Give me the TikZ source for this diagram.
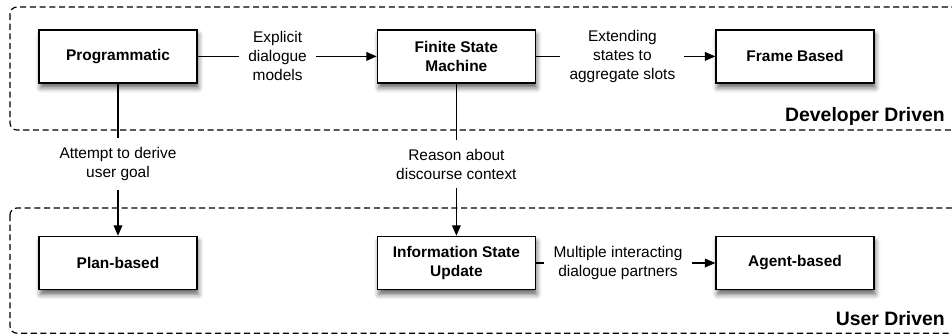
\documentclass[tikz,border=0pt]{standalone}
\usepackage{fontspec}
\setmainfont{Liberation Sans}
\usetikzlibrary{arrows.meta,shadows.blur}

\begin{document}
\begin{tikzpicture}[
  font=\fontsize{11}{13.5}\selectfont,
  stagebox/.style={draw, line width=1pt, fill=white, minimum width=3.95cm, minimum height=1.33cm,
    align=center, font=\fontsize{11}{13.5}\selectfont\bfseries,
    blur shadow={shadow xshift=1pt, shadow yshift=-3.5pt, shadow blur radius=3.5pt, shadow opacity=60}},
  steplabel/.style={align=center, inner sep=0.22cm},
  region/.style={dash pattern=on 4.3pt off 2.6pt, line width=0.85pt, rounded corners=5pt},
  regionlabel/.style={anchor=base east, inner sep=0pt, font=\fontsize{13.8}{16}\selectfont\bfseries},
  link/.style={line width=0.75pt},
  arr/.style={link, -{Triangle[length=2.6mm, width=2.2mm]}}
]
\useasboundingbox (0,0) rectangle (23.8,-8.4);

% The two dashed regions
\draw[region] (0.25,-0.175) rectangle (24.5,-3.25);
\draw[region] (0.25,-5.2) rectangle (24.5,-8.33);
\node[regionlabel] (devlabel) at (23.625,-3.025) {Developer Driven};
\node[regionlabel] (userlabel) at (23.625,-8.125) {User Driven};

% Dialogue model stages
\node[stagebox] (prog) at (2.95,-1.41) {Programmatic};
\node[stagebox] (fsm) at (11.41,-1.41) {Finite State\\Machine};
\node[stagebox] (frame) at (19.875,-1.41) {Frame Based};
\node[stagebox] (plan) at (2.95,-6.575) {Plan-based};
\node[stagebox] (isu) at (11.41,-6.575) {Information State\\Update};
\node[stagebox] (agent) at (19.875,-6.575) {Agent-based};

% Transitions and their labels
\node[steplabel] (explicit) at (6.94,-1.41) {Explicit\\dialogue\\models};
\node[steplabel] (extend) at (15.56,-1.41) {Extending\\states to\\aggregate slots};
\node[steplabel] (attempt) at (2.95,-4.1) {Attempt to derive\\user goal};
\node[steplabel] (reason) at (11.41,-4.1) {Reason about\\discourse context};
\node[steplabel] (multi) at (15.45,-6.575) {Multiple interacting\\dialogue partners};

\draw[link] (prog) -- (explicit);
\draw[arr] (explicit) -- (fsm);
\draw[link] (fsm) -- (extend);
\draw[arr] (extend) -- (frame);
\draw[link] (prog) -- (attempt);
\draw[arr] (attempt) -- (plan);
\draw[link] (fsm) -- (reason);
\draw[arr] (reason) -- (isu);
\draw[link] (isu) -- (multi);
\draw[arr] (multi) -- (agent);
\end{tikzpicture}
\end{document}
